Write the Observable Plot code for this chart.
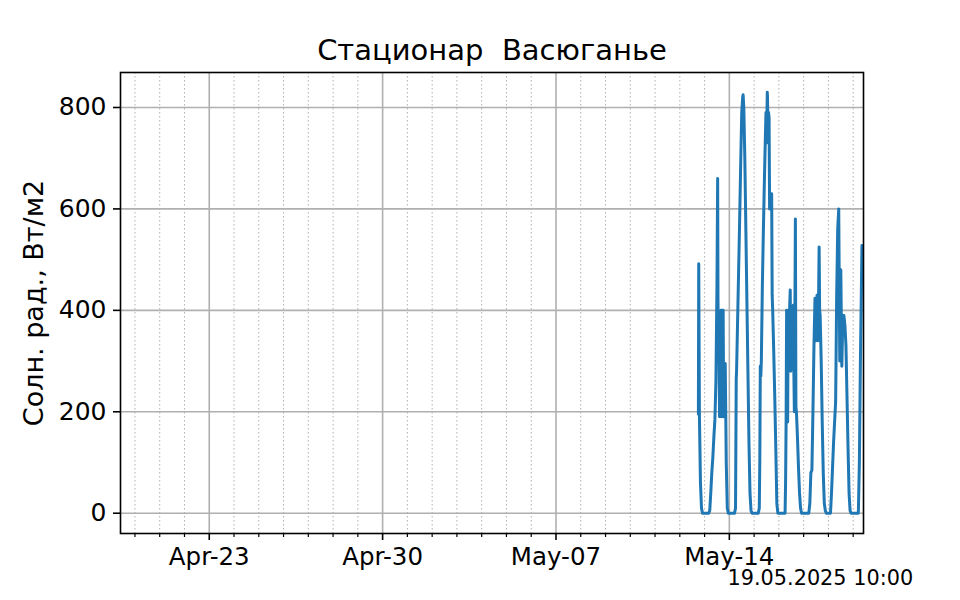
<!DOCTYPE html>
<html><head><meta charset="utf-8">
<script src="https://cdn.jsdelivr.net/npm/d3@7"></script>
<script src="https://cdn.jsdelivr.net/npm/@observablehq/plot@0.6"></script>
<style>body{margin:0;background:#fff} #chart svg{font-family:"DejaVu Sans";background:#fff}</style>
</head><body><div id="chart"></div>
<script>
const title = "Стационар  Васюганье";
const yLabel = "Солн. рад., Вт/м2";
const stamp = "19.05.2025 10:00";
const xStart = "2025-04-19T10:00";
const xEnd = "2025-05-19T10:00";
const majorTicks = ["2025-04-23", "2025-04-30", "2025-05-07", "2025-05-14"];
const majorLabels = ["Apr-23", "Apr-30", "May-07", "May-14"];
const yTicks = [0, 200, 400, 600, 800];

// solar radiation readings (local time)
const times = [
  "2025-05-12T18:00","2025-05-12T18:20","2025-05-12T19:00","2025-05-12T20:00","2025-05-12T21:00","2025-05-12T22:00",
  "2025-05-13T04:00","2025-05-13T05:00","2025-05-13T06:00","2025-05-13T07:00","2025-05-13T08:00","2025-05-13T09:00",
  "2025-05-13T10:00","2025-05-13T11:00","2025-05-13T12:00","2025-05-13T12:40","2025-05-13T13:00","2025-05-13T13:30",
  "2025-05-13T14:00","2025-05-13T14:30","2025-05-13T15:00","2025-05-13T15:30","2025-05-13T16:00","2025-05-13T16:30",
  "2025-05-13T17:00","2025-05-13T17:30","2025-05-13T18:00","2025-05-13T18:30","2025-05-13T19:00","2025-05-13T20:00",
  "2025-05-13T20:30","2025-05-13T21:00","2025-05-13T22:00","2025-05-13T23:00",
  "2025-05-14T05:00","2025-05-14T06:00","2025-05-14T06:40","2025-05-14T07:00","2025-05-14T08:00","2025-05-14T09:00",
  "2025-05-14T10:00","2025-05-14T11:00","2025-05-14T12:00","2025-05-14T13:00","2025-05-14T13:20","2025-05-14T14:00",
  "2025-05-14T15:00","2025-05-14T16:00","2025-05-14T17:00","2025-05-14T18:00","2025-05-14T19:00","2025-05-14T20:00",
  "2025-05-14T21:00","2025-05-14T22:00",
  "2025-05-15T04:00","2025-05-15T05:00","2025-05-15T05:30","2025-05-15T06:00","2025-05-15T06:30","2025-05-15T07:00",
  "2025-05-15T08:00","2025-05-15T09:00","2025-05-15T10:00","2025-05-15T11:00","2025-05-15T11:30","2025-05-15T12:00",
  "2025-05-15T12:45","2025-05-15T13:00","2025-05-15T13:30","2025-05-15T14:00","2025-05-15T14:30","2025-05-15T15:00",
  "2025-05-15T16:00","2025-05-15T17:00","2025-05-15T17:30","2025-05-15T18:00","2025-05-15T19:00","2025-05-15T20:00",
  "2025-05-15T21:00","2025-05-15T22:00","2025-05-15T23:00",
  "2025-05-16T06:00","2025-05-16T06:30","2025-05-16T07:00","2025-05-16T07:30","2025-05-16T08:00","2025-05-16T08:30",
  "2025-05-16T09:00","2025-05-16T10:00","2025-05-16T11:00","2025-05-16T11:30","2025-05-16T12:00","2025-05-16T13:00",
  "2025-05-16T14:00","2025-05-16T14:30","2025-05-16T15:00","2025-05-16T16:00","2025-05-16T16:30","2025-05-16T17:00",
  "2025-05-16T18:00","2025-05-16T19:00","2025-05-16T20:00","2025-05-16T21:00","2025-05-16T22:00",
  "2025-05-17T05:00","2025-05-17T06:00","2025-05-17T07:00","2025-05-17T08:00","2025-05-17T09:00","2025-05-17T10:00",
  "2025-05-17T11:00","2025-05-17T12:00","2025-05-17T13:00","2025-05-17T14:00","2025-05-17T15:00","2025-05-17T15:30",
  "2025-05-17T16:00","2025-05-17T17:00","2025-05-17T18:00","2025-05-17T19:00","2025-05-17T20:00","2025-05-17T21:00",
  "2025-05-17T22:00",
  "2025-05-18T02:00","2025-05-18T03:00","2025-05-18T04:00","2025-05-18T05:00","2025-05-18T06:00","2025-05-18T07:00",
  "2025-05-18T08:00","2025-05-18T09:00","2025-05-18T10:00","2025-05-18T11:00","2025-05-18T12:00","2025-05-18T13:00",
  "2025-05-18T14:00","2025-05-18T15:00","2025-05-18T16:00","2025-05-18T17:00","2025-05-18T18:00","2025-05-18T19:00",
  "2025-05-18T20:00","2025-05-18T21:00","2025-05-18T22:00",
  "2025-05-19T05:00","2025-05-19T06:00","2025-05-19T07:00","2025-05-19T08:00","2025-05-19T08:30"
];
const values = [
  195, 492, 190, 60, 10, 0,
  0, 5, 40, 80, 110, 150,
  185, 260, 450, 660, 420, 315,
  330, 190, 360, 300, 400, 190,
  400, 350, 400, 190, 240, 295,
  200, 100, 10, 0,
  0, 10, 265, 280, 380, 480,
  580, 690, 790, 822, 825, 800,
  700, 560, 420, 280, 140, 40,
  5, 0,
  0, 10, 100, 290, 270, 300,
  450, 560, 660, 750, 790, 730,
  830, 820, 740, 790, 780, 600,
  620, 630, 430, 400, 320, 230,
  130, 20, 0,
  0, 60, 180, 400, 390, 180,
  400, 380, 440, 280, 300, 400,
  410, 280, 200, 580, 210, 200,
  150, 90, 40, 10, 0,
  0, 20, 80, 85, 200, 330,
  424, 340, 430, 340, 525, 400,
  390, 300, 180, 80, 20, 5,
  0,
  0, 40, 90, 140, 180, 220,
  430, 560, 600, 300, 480, 290,
  390, 390, 370, 330, 230, 130,
  40, 5, 0,
  0, 100, 300, 450, 528
];

const parse = s => new Date(s + (s.length === 10 ? "T00:00Z" : "Z"));
const data = times.map((t, i) => ({date: parse(t), value: values[i]}));
const majorDates = majorTicks.map(parse);
const majorSet = new Set(majorDates.map(d => +d));
const minorDays = d3.utcDay.range(parse("2025-04-20"), parse(xEnd)).filter(d => !majorSet.has(+d));
const labelOf = d => majorLabels[majorDates.findIndex(m => +m === +d)];

const chart = Plot.plot({
  width: 960,
  height: 600,
  marginLeft: 120,
  marginRight: 97,
  marginTop: 72,
  marginBottom: 67,
  style: {fontFamily: "DejaVu Sans", color: "black", background: "white"},
  x: {type: "utc", domain: [parse(xStart), parse(xEnd)]},
  y: {domain: [-40, 869]},
  marks: [
    Plot.ruleX(minorDays, {stroke: "#b0b0b0", strokeWidth: 1, strokeDasharray: "1.5,2.5"}),
    Plot.ruleX(majorDates, {stroke: "#b0b0b0", strokeWidth: 1.6}),
    Plot.ruleY(yTicks, {stroke: "#b0b0b0", strokeWidth: 1.6}),
    Plot.line(data, {x: "date", y: "value", stroke: "#1f77b4", strokeWidth: 3, clip: true}),
    Plot.frame({stroke: "black", strokeWidth: 1.6}),
    Plot.axisX({ticks: minorDays, tickSize: 4, tickFormat: () => "", label: null, strokeWidth: 1.2}),
    Plot.axisX({ticks: majorDates, tickSize: 7, tickPadding: 7, tickFormat: labelOf, fontSize: 24.5, label: null, strokeWidth: 1.6}),
    Plot.axisY({ticks: yTicks, tickSize: 7, tickPadding: 7, fontSize: 25, label: null, strokeWidth: 1.6}),
    Plot.text([title], {text: d => d, frameAnchor: "top", dy: -22, lineAnchor: "middle", textAnchor: "middle", fontSize: 29}),
    Plot.text([yLabel], {text: d => d, frameAnchor: "left", dx: -86, rotate: -90, lineAnchor: "middle", textAnchor: "middle", fontSize: 27}),
    Plot.text([stamp], {text: d => d, frameAnchor: "bottom-left", dx: 607, dy: 45, textAnchor: "start", lineAnchor: "middle", fontSize: 20.8})
  ]
});
document.getElementById("chart").appendChild(chart);
</script>
</body></html>
